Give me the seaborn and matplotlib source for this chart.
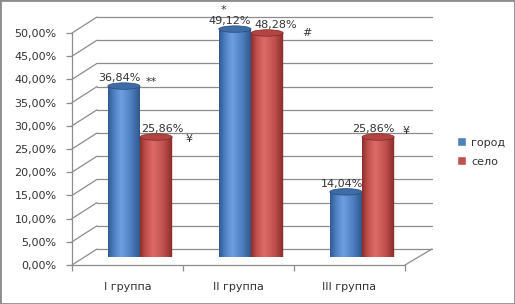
import numpy as np
import pandas as pd
import seaborn as sns
import matplotlib.pyplot as plt
from matplotlib.colors import LinearSegmentedColormap
from matplotlib.patches import Ellipse, PathPatch, Patch, Rectangle
from matplotlib.path import Path
from matplotlib.lines import Line2D
from matplotlib.transforms import IdentityTransform

# data
groups = ['I группа', 'II группа', 'III группа']
areas = ['город', 'село']
city = [36.84, 49.12, 14.04]
village = [25.86, 48.28, 25.86]
city_marks = ['**', '*', '']
village_marks = ['¥', '#', '¥']
y_ticks = list(range(0, 51, 5))

sns.set_style('white')
plt.rcParams['font.family'] = ['DejaVu Sans']
plt.rcParams['font.size'] = 8
TXT = '#333333'
GRID = '#8c8c8c'

df = pd.DataFrame({
    'group': groups * 2,
    'area': [areas[0]] * 3 + [areas[1]] * 3,
    'value': city + village,
})

W, H = 515, 304
fig = plt.figure(figsize=(W / 100, H / 100), dpi=100)


def px_axes(x0, y_top, w, h):
    return fig.add_axes([x0 / W, 1 - (y_top + h) / H, w / W, h / H])


# back wall (gridlines), front plane (axes), mid plane (bars)
ax_b = px_axes(97, 17, 335, 232)
ax_f = px_axes(72, 33, 333, 232)
ax_m = px_axes(84.5, 25, 333, 232)

for a in (ax_b, ax_f, ax_m):
    a.set_xlim(-0.5, 2.5)
    a.set_ylim(0, 50)
    a.set_facecolor('none')

# back wall
ax_b.set_yticks(y_ticks)
ax_b.set_xticks([])
ax_b.tick_params(axis='y', length=0, labelleft=False)
ax_b.grid(True, axis='y', color=GRID, lw=0.9)
for gl in ax_b.get_ygridlines():
    gl.set_clip_on(False)
for s in ['top', 'right', 'bottom', 'left']:
    ax_b.spines[s].set_visible(False)

# front axis
ax_f.set_yticks(y_ticks)
ax_f.set_yticklabels([f'{v:.2f}%'.replace('.', ',') for v in y_ticks])
ax_f.set_xticks(range(len(groups)))
ax_f.set_xticklabels(groups)
ax_f.set_xticks([-0.5, 0.5, 1.5, 2.5], minor=True)
ax_f.tick_params(axis='y', length=4, width=0.9, color=GRID, pad=7, labelcolor=TXT, left=True)
ax_f.tick_params(axis='x', which='major', length=0, pad=12, labelcolor=TXT)
ax_f.tick_params(axis='x', which='minor', length=4, width=0.9, color=GRID, bottom=True)
for s in ['top', 'right']:
    ax_f.spines[s].set_visible(False)
for s in ['left', 'bottom']:
    ax_f.spines[s].set_color(GRID)
    ax_f.spines[s].set_linewidth(0.9)

# perspective lines joining front and back
for v in y_ticks:
    p1 = ax_f.transData.transform((-0.5, v))
    p2 = ax_b.transData.transform((-0.5, v))
    fig.add_artist(Line2D([p1[0], p2[0]], [p1[1], p2[1]], transform=IdentityTransform(),
                          color=GRID, lw=0.9))
p1 = ax_f.transData.transform((2.5, 0))
p2 = ax_b.transData.transform((2.5, 0))
fig.add_artist(Line2D([p1[0], p2[0]], [p1[1], p2[1]], transform=IdentityTransform(),
                      color=GRID, lw=0.9))

# bars
palette = {'город': '#4F81BD', 'село': '#C0504D'}
sns.barplot(data=df, x='group', y='value', hue='area', hue_order=areas, order=groups,
            palette=palette, width=0.58, gap=0, legend=False, ax=ax_m)
ax_m.set_xlim(-0.5, 2.5)
ax_m.set_ylim(0, 50)
ax_m.axis('off')

cmaps = [
    LinearSegmentedColormap.from_list('b', [(0, '#30598f'), (0.18, '#4d80c3'), (0.4, '#6e9fe0'),
                                            (0.72, '#4b7dbf'), (1, '#2c5284')]),
    LinearSegmentedColormap.from_list('r', [(0, '#8c2e2b'), (0.18, '#c2514e'), (0.4, '#dd6c69'),
                                            (0.72, '#c0504d'), (1, '#852a28')]),
]
tops = ['#3e6ca6', '#b4443f']
edges = ['#2a4a78', '#7e2826']
marks = [city_marks, village_marks]
mark_offsets = [[(27, 4), (-11, 19), (0, 0)], [(33, -2), (40, 0), (28, 6)]]
label_dx = [[-5, -5, -4], [6, 9, -5]]

e = 6.5 / (232 / 50)  # ellipse height in data units
grad = np.linspace(0, 1, 256)[None, :]
t = np.linspace(np.pi, 2 * np.pi, 40)
for k, cont in enumerate(ax_m.containers):
    for j, bar in enumerate(cont):
        x0, w, h = bar.get_x(), bar.get_width(), bar.get_height()
        cx = x0 + w / 2
        bar.set_visible(False)
        verts = [(x0, h), (x0, 0)] + list(zip(cx + w / 2 * np.cos(t), e / 2 * np.sin(t))) + \
                [(x0 + w, h), (x0, h)]
        clip = PathPatch(Path(verts), transform=ax_m.transData, facecolor='none', edgecolor='none')
        ax_m.add_patch(clip)
        im = ax_m.imshow(grad, cmap=cmaps[k], extent=[x0, x0 + w, -e / 2, h], aspect='auto',
                         origin='lower', interpolation='bilinear', zorder=2)
        im.set_clip_path(clip)
        ax_m.add_patch(Ellipse((cx, h), w, e, facecolor=tops[k], edgecolor=edges[k], lw=0.5,
                               zorder=3, clip_on=False))
        ax_m.annotate(f'{h:.2f}%'.replace('.', ','), (cx, h), xytext=(label_dx[k][j], 3),
                      textcoords='offset pixels', ha='center', va='bottom', color=TXT,
                      fontsize=8, annotation_clip=False)
        m = marks[k][j]
        if m:
            ax_m.annotate(m, (cx, h), xytext=mark_offsets[k][j], textcoords='offset pixels',
                          ha='center', va='center', color=TXT, fontsize=8, annotation_clip=False)
ax_m.set_xlim(-0.5, 2.5)
ax_m.set_ylim(0, 50)

handles = [Patch(facecolor=palette[a]) for a in areas]
fig.legend(handles, areas, loc='center left', bbox_to_anchor=(447 / W, 1 - 152 / H),
           frameon=False, handlelength=0.8, handleheight=0.8, handletextpad=0.5,
           labelspacing=0.8, labelcolor=TXT, fontsize=8)

fig.patches.append(Rectangle((0, 0), 1, 1, transform=fig.transFigure, fill=False,
                             edgecolor='#8c8c8c', lw=2))

fig.savefig('out.png', dpi=100)
